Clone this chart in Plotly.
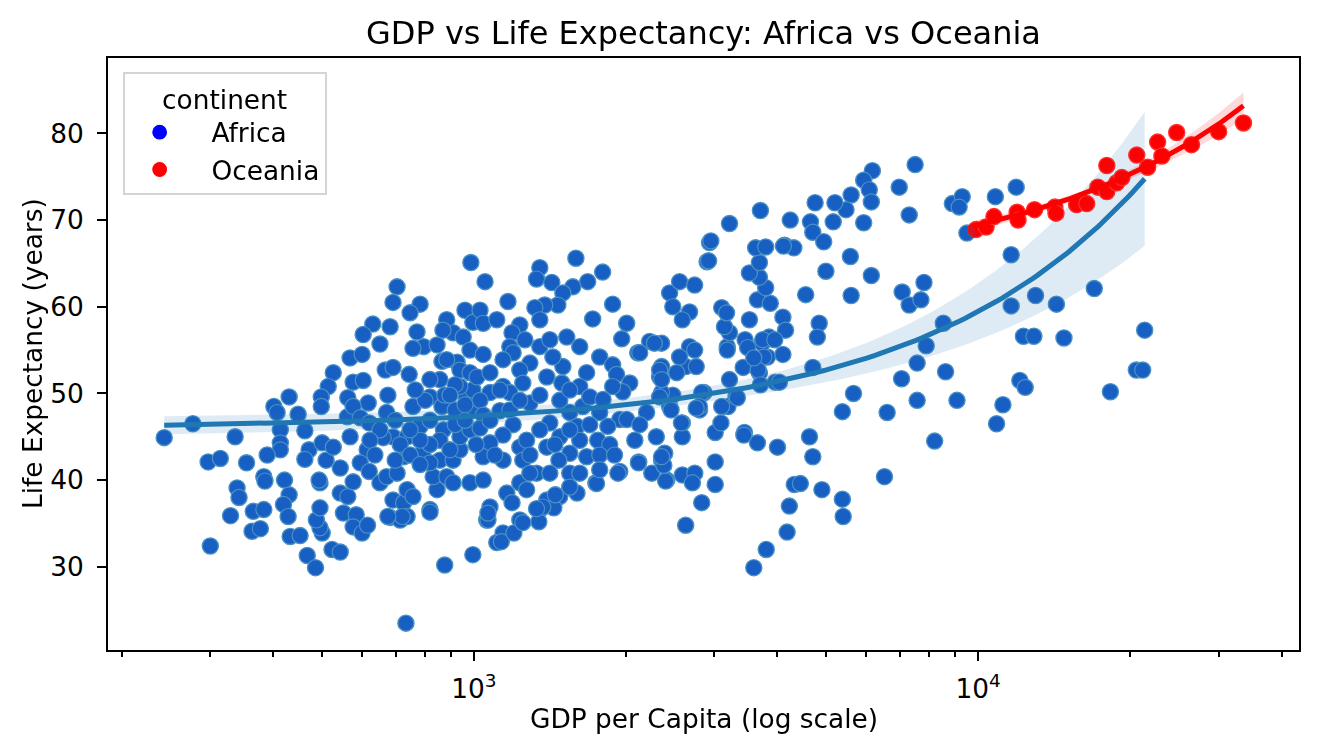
import numpy as np
import plotly.graph_objects as go

# Africa points as (gdp per capita, life expectancy)
africa_left = [
    (986, 65.1), (704, 62.3), (691, 60.5), (782, 60.3), (747, 59.3), (630, 58.0), (682, 57.7), (603, 56.8), (651, 55.7), (771, 57.1),
    (795, 55.4), (757, 55.2), (845, 55.6), (883, 58.5), (960, 59.6), (568, 54.1), (600, 54.5), (526, 52.4), (667, 52.7), (691, 53.0),
    (744, 52.2), (864, 53.7), (926, 53.6), (576, 51.3), (603, 51.5), (514, 50.8), (498, 49.6), (498, 48.5), (562, 49.5), (617, 48.9),
    (675, 49.8), (401, 48.5), (430, 49.6), (448, 47.6), (407, 47.8), (277, 46.5), (243, 44.9), (336, 45.0), (413, 45.8), (413, 44.3),
    (413, 43.5), (462, 45.7), (471, 43.5), (462, 42.4), (389, 42.9), (354, 42.0), (297, 42.1), (314, 42.5), (339, 39.1), (342, 38.0),
    (329, 35.9), (383, 40.4), (385, 39.9), (421, 40.0), (430, 38.3), (419, 37.2), (428, 35.8), (365, 36.4), (383, 36.6), (363, 34.1),
    (377, 34.4), (300, 32.4), (432, 33.5), (452, 33.6), (467, 31.3), (485, 29.9), (523, 32.0), (543, 31.7), (500, 33.9), (495, 34.5),
    (487, 35.4), (495, 36.8), (495, 39.7), (493, 40.0), (543, 38.5), (551, 36.2), (584, 36.0), (576, 34.6), (600, 33.9), (615, 34.8),
    (562, 38.1), (576, 39.8), (543, 41.4), (509, 42.3), (500, 44.3), (526, 43.8), (568, 45.0), (561, 47.3), (576, 48.5), (595, 47.2),
    (620, 46.6), (671, 47.8), (614, 43.5), (595, 42.0), (620, 41.0), (651, 39.7), (671, 40.4), (704, 40.8), (725, 42.7), (691, 45.0),
    (661, 44.9), (737, 45.0), (782, 46.2), (757, 48.5), (818, 49.6), (864, 48.5), (918, 48.1), (966, 49.6), (691, 37.7), (725, 37.4),
    (737, 38.9), (757, 38.1), (682, 35.7), (714, 35.4), (737, 35.8), (818, 36.6), (845, 38.9), (830, 40.4), (883, 40.4), (856, 42.3),
    (795, 43.5), (818, 42.0), (909, 42.3), (938, 43.5), (909, 39.7), (982, 39.7), (875, 30.2), (995, 31.4), (733, 23.5), (938, 45.0),
    (982, 45.8), (995, 48.1), (995, 50.4), (938, 50.8), (856, 51.6), (818, 51.6), (938, 52.7), (982, 52.4), (909, 57.0), (952, 56.5),
    (995, 58.2), (982, 55.0), (868, 57.3), (883, 53.9),
]

africa_mid = [
    (1052, 62.9), (1351, 64.5), (1331, 63.2), (1427, 62.8), (1593, 65.6), (1681, 62.9), (1800, 64.0), (1571, 62.3), (1501, 61.6), (1467, 60.2),
    (1382, 60.2), (1321, 59.9), (1351, 58.5), (1168, 60.6), (1028, 59.6), (1043, 58.1), (1110, 58.5), (1233, 57.9), (1190, 57.0), (1262, 56.2),
    (1178, 55.4), (1351, 55.4), (1414, 56.2), (1528, 56.5), (1621, 55.4), (1720, 58.6), (1884, 60.3), (2009, 58.1), (1964, 56.3), (2113, 54.7),
    (2231, 56.0), (2356, 55.8), (1776, 54.2), (1884, 53.3), (1918, 52.2), (2037, 51.2), (1973, 50.2), (1673, 52.4), (1621, 50.8), (1501, 53.1),
    (1395, 51.9), (1494, 51.2), (1434, 54.2), (1291, 53.5), (1233, 52.7), (1196, 54.7), (1142, 53.9), (1043, 54.5), (1014, 51.9), (1076, 52.4),
    (1142, 50.8), (1250, 51.2), (1291, 48.9), (1178, 50.1), (1076, 50.1), (1028, 49.2), (1126, 48.0), (1043, 47.5), (1196, 46.4), (1142, 45.2),
    (1028, 46.0), (1076, 44.3), (1043, 42.7), (1142, 42.3), (1233, 43.8), (1272, 44.6), (1250, 42.3), (1331, 40.8), (1395, 43.8), (1414, 46.6),
    (1480, 45.0), (1549, 47.8), (1601, 46.2), (1644, 48.5), (1697, 49.6), (1776, 47.8), (1803, 49.3), (1884, 50.8), (1946, 47.0), (2009, 47.0),
    (1843, 46.2), (1760, 44.6), (1621, 44.6), (1673, 42.7), (1549, 43.1), (1474, 42.3), (1414, 40.8), (1549, 40.8), (1621, 40.8), (1601, 38.5),
    (1480, 38.1), (1395, 37.7), (1351, 36.6), (1233, 35.4), (1142, 33.9), (1076, 36.9), (1060, 35.4), (1043, 40.0), (1162, 38.5), (1233, 39.7),
    (1291, 40.8), (1745, 39.7), (1946, 41.0), (2122, 42.1), (2253, 40.8), (2200, 47.8), (2300, 45.0), (2390, 43.1), (2413, 40.0), (2356, 42.3),
    (2590, 40.6), (2742, 40.8), (2712, 39.7), (3010, 42.1), (3010, 39.5), (2830, 37.4), (2630, 34.8), (2444, 48.5), (2480, 49.8), (2590, 46.6),
    (2590, 45.0), (2802, 48.1), (2860, 50.1), (3010, 45.5), (3090, 46.6), (3190, 48.5), (3213, 51.6), (3440, 45.5), (3650, 44.3), (4000, 43.8),
    (3310, 49.6), (3420, 53.0), (3683, 52.4), (3960, 51.3), (3820, 54.2), (4100, 54.5), (3730, 55.8), (3450, 56.2), (3180, 55.4), (3213, 57.0),
    (3140, 57.7), (3100, 59.9), (3519, 58.5), (3650, 60.8), (3790, 62.2), (3683, 63.4), (3519, 63.9), (3683, 65.1), (3620, 66.8), (3790, 66.9),
    (4130, 67.1), (4310, 66.8), (3870, 60.4), (4100, 58.8), (4150, 57.3), (3850, 56.5), (2677, 55.4), (2740, 55.0), (2630, 53.1), (2558, 54.2),
    (2524, 52.4), (2356, 53.1), (2335, 51.9), (2356, 50.1), (2280, 55.8), (2444, 61.6), (2558, 62.9), (2740, 62.5), (2480, 60.0), (2677, 59.4),
    (2590, 58.5), (2933, 67.4), (2900, 65.2), (4320, 39.5), (4223, 37.0), (4180, 34.0),
]

africa_right = [
    (6170, 75.7), (5930, 74.6), (6083, 73.5), (6140, 72.1), (5600, 72.9), (5470, 71.2), (5200, 72.0), (5160, 69.8), (4750, 72.0), (4650, 69.8),
    (4700, 68.6), (4940, 67.5), (4240, 70.0), (3700, 71.1), (3213, 69.6), (2950, 67.6), (2920, 65.3), (6975, 73.8), (7500, 76.4), (7301, 70.6),
    (5930, 69.7), (5580, 65.8), (6140, 63.6), (5600, 61.3), (4990, 64.1), (4550, 61.4), (4110, 67.0), (3740, 56.2), (3950, 56.2), (3760, 54.2),
    (3660, 52.7), (4840, 58.1), (4800, 56.5), (3170, 59.3), (2132, 54.7), (2335, 52.7), (2356, 51.6), (2760, 53.1), (3180, 55.0), (3490, 55.3),
    (3590, 54.1), (3700, 51.0), (4035, 51.3), (3330, 49.5), (3100, 48.5), (2830, 50.1), (2800, 48.5), (2580, 46.6), (2460, 48.1), (2335, 49.6),
    (4700, 53.0), (7070, 61.7), (7300, 60.2), (7700, 60.8), (7810, 62.8), (8530, 58.1), (7890, 55.5), (7570, 53.5), (7050, 51.7), (8620, 52.5),
    (5660, 50.0), (5380, 47.9), (6600, 47.8), (7570, 49.2), (9080, 49.2), (4630, 45.0), (8890, 71.9), (9300, 72.7), (9500, 68.5), (9170, 71.5),
    (10820, 72.7), (11900, 73.8), (11630, 66.0), (8200, 44.5), (6520, 40.4), (4700, 42.7), (4440, 39.6), (4900, 38.9), (5380, 37.8), (5400, 35.8),
    (11630, 60.1), (13000, 61.3), (14300, 60.3), (17000, 62.1), (12300, 56.6), (12900, 56.6), (14800, 56.4), (21400, 57.3), (12100, 51.5), (12400, 50.7),
    (11200, 48.7), (10880, 46.5), (18300, 50.2), (20600, 52.7), (21200, 52.7),
]

africa_low = [
    (1110, 32.8), (1133, 32.9), (1200, 33.9), (1250, 35.1), (1345, 35.2), (1440, 36.8), (1370, 36.9), (1331, 36.7), (1450, 38.3), (1549, 39.2),
    (1750, 39.6), (1930, 40.8), (2120, 42.0), (2400, 39.9), (2380, 41.7), (2356, 42.7), (3590, 29.9), (3800, 32.0), (3430, 45.2), (2760, 48.3),
    (818, 36.3), (721, 35.8), (675, 35.8), (1066, 35.4), (1066, 36.2), (1190, 37.4), (1272, 38.9),
]

africa_core = [
    (818, 46.9), (870, 45.8), (918, 46.4), (960, 46.9), (856, 44.6), (896, 43.5), (818, 44.1), (782, 44.6), (747, 45.8), (714, 44.1),
    (747, 42.9), (782, 41.8), (698, 42.3), (800, 49.2), (765, 50.4), (875, 49.8), (918, 51.0), (1126, 50.4), (1178, 48.1), (1233, 49.2),
    (1351, 49.8), (1480, 49.2), (1549, 50.4), (1351, 45.8), (1447, 44.1), (1291, 42.9), (1549, 45.8), (1697, 46.4), (1859, 44.1), (1776, 42.9),
    (1076, 46.9), (1100, 42.9), (1010, 44.1), (960, 48.7), (896, 49.8), (651, 45.8), (622, 44.6), (636, 42.9), (698, 46.9), (1776, 41.2),
    (1900, 42.9), (2085, 44.6), (2132, 46.4),
]

oceania_gdp = [9900, 10370, 10750, 11950, 12000, 12940, 14200, 14270, 15680, 16420, 17280, 18000,
               18000, 18830, 19280, 20640, 21690, 22700, 23150, 24770, 26500, 30000, 33600]
oceania_life = [68.9, 69.2, 70.4, 70.9, 70.0, 71.2, 71.5, 70.8, 71.8, 71.9, 73.8, 73.3,
                76.3, 74.3, 74.9, 77.5, 76.1, 79.0, 77.4, 80.1, 78.7, 80.2, 81.2]

africa = africa_left + africa_mid + africa_right + africa_low + africa_core
af_gdp = np.array([p[0] for p in africa], dtype=float)
af_life = np.array([p[1] for p in africa], dtype=float)
oc_gdp = np.array(oceania_gdp, dtype=float)
oc_life = np.array(oceania_life, dtype=float)


def linear_fit(x, y, n=100):
    # straight line in gdp (not log gdp), with a robust 95% band
    X = np.column_stack([np.ones_like(x), x])
    xtx = np.linalg.inv(X.T @ X)
    beta = xtx @ X.T @ y
    resid = y - X @ beta
    meat = X.T @ (X * resid[:, None] ** 2)
    cov = xtx @ meat @ xtx
    grid = np.linspace(x.min(), x.max(), n)
    G = np.column_stack([np.ones_like(grid), grid])
    yhat = G @ beta
    se = np.sqrt(np.einsum('ij,jk,ik->i', G, cov, G))
    return grid, yhat, yhat - 1.96 * se, yhat + 1.96 * se


font = "DejaVu Sans"
fs = 26.4
fig = go.Figure()

# hue scatter (what the legend shows)
fig.add_trace(go.Scatter(x=af_gdp, y=af_life, mode='markers', name='\u00a0\u00a0Africa',
                         marker=dict(color='blue', size=16, line=dict(color='white', width=1.2))))
fig.add_trace(go.Scatter(x=oc_gdp, y=oc_life, mode='markers', name='\u00a0\u00a0Oceania',
                         marker=dict(color='red', size=16, line=dict(color='white', width=1.2))))

for gx, gy, col, band in [(af_gdp, af_life, '#1f77b4', 'rgba(31,119,180,0.15)'),
                          (oc_gdp, oc_life, 'red', 'rgba(255,0,0,0.15)')]:
    grid, yhat, lo, hi = linear_fit(gx, gy)
    fig.add_trace(go.Scatter(x=gx, y=gy, mode='markers', showlegend=False, opacity=0.8,
                             marker=dict(color=col, size=16, line=dict(color=col, width=1.5))))
    fig.add_trace(go.Scatter(x=np.concatenate([grid, grid[::-1]]), y=np.concatenate([hi, lo[::-1]]),
                             fill='toself', fillcolor=band, line=dict(width=0), mode='lines',
                             showlegend=False, hoverinfo='skip'))
    fig.add_trace(go.Scatter(x=grid, y=yhat, mode='lines', showlegend=False,
                             line=dict(color=col, width=5)))

minor_vals = [200, 300, 400, 500, 600, 700, 800, 900, 2000, 3000, 4000, 5000, 6000, 7000, 8000, 9000,
              20000, 30000, 40000]

# the page adds an 8px body margin, so the figure is a little smaller than the window
W, H = 1302, 737
fig.update_layout(
    template='none',
    width=W, height=H,
    margin=dict(l=100, r=11, t=50, b=95),
    paper_bgcolor='white', plot_bgcolor='white',
    font=dict(family=font, size=fs, color='black'),
    title=dict(text='GDP vs Life Expectancy: Africa vs Oceania', x=0.5, xref='paper', xanchor='center',
               y=1 - 25 / H, yref='container', yanchor='middle', font=dict(size=32)),
    legend=dict(title=dict(text='continent', side='top center', font=dict(size=fs)),
                x=0.0123, y=0.976, xanchor='left', yanchor='top',
                bgcolor='rgba(255,255,255,0.8)', bordercolor='#d4d4d4', borderwidth=2,
                font=dict(size=fs), itemwidth=60),
    showlegend=True,
    annotations=[
        dict(text='GDP per Capita (log scale)', xref='paper', yref='paper', x=0.5, y=0,
             yshift=-68, xanchor='center', yanchor='middle', showarrow=False, font=dict(size=fs)),
        dict(text='Life Expectancy (years)', xref='paper', yref='paper', x=0, y=0.5,
             xshift=-76, xanchor='center', yanchor='middle', textangle=-90, showarrow=False,
             font=dict(size=fs)),
    ],
)

fig.update_xaxes(type='log', range=[np.log10(188), np.log10(43300)],
                 tickvals=[1000, 10000], ticktext=['10<sup>3</sup>', '10<sup>4</sup>'],
                 ticks='outside', ticklen=9, tickwidth=2, tickcolor='black', ticklabelstandoff=5,
                 tickfont=dict(size=fs),
                 minor=dict(tickvals=minor_vals, ticks='outside', ticklen=5, tickwidth=1.5,
                            tickcolor='black', showgrid=False),
                 showline=True, linecolor='black', linewidth=2, mirror=True,
                 showgrid=False, zeroline=False, automargin=False)
fig.update_yaxes(range=[20.4, 88.7], tickvals=[30, 40, 50, 60, 70, 80],
                 ticks='outside', ticklen=9, tickwidth=2, tickcolor='black', ticklabelstandoff=8,
                 tickfont=dict(size=fs),
                 showline=True, linecolor='black', linewidth=2, mirror=True,
                 showgrid=False, zeroline=False, automargin=False)

fig.write_html("out.html")
